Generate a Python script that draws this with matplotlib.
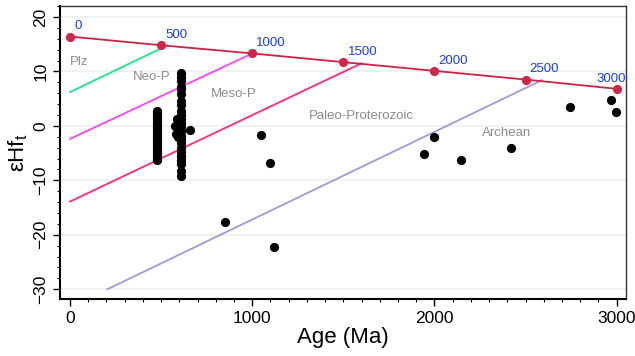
import numpy as np
import matplotlib.pyplot as plt
from matplotlib.ticker import MultipleLocator

plt.rcParams['font.family'] = ['Liberation Sans', 'DejaVu Sans']

# depleted mantle evolution curve
dm_age = [0, 500, 1000, 1500, 2000, 2500, 3000]
dm_ehf = [16.4, 14.8, 13.3, 11.7, 10.1, 8.5, 6.8]

# crustal evolution lines (start, end)
evo_lines = {
    'Plz':  ([0, 535], [6.2, 14.8], '#19e68a'),
    'Neo':  ([0, 1000], [-2.4, 13.3], '#ff44f4'),
    'Meso': ([0, 1600], [-13.9, 11.5], '#ff2a7c'),
    'Pal':  ([205, 2590], [-30.0, 8.4], '#a298dc'),
}

# eon labels
eon_names = ['Plz', 'Neo-P', 'Meso-P', 'Paleo-Proterozoic', 'Archean']
eon_x = [0, 450, 900, 1597, 2397]
eon_y = [11.7, 8.9, 5.8, 1.8, -1.4]

# zircon samples
col1_age = 480
col1_ehf = [2.8, 2.4, 2.0, 1.6, 1.2, 0.8, 0.4, 0.0, -0.4, -0.8, -1.2, -1.6, -2.0,
            -2.4, -2.8, -3.2, -3.6, -4.0, -4.4, -4.8, -5.2, -5.6, -6.0, -6.3]
col2_age = 607
col2_ehf = [9.7, 9.0, 8.2, 7.2, 6.8, 5.8, 4.6, 3.8, 2.8, 2.0, 1.2, 0.5, -0.2, -1.0,
            -1.8, -2.5, -3.2, -4.0, -4.8, -5.5, -6.3, -7.0, -8.3, -9.2]
other_age = [585, 580, 590, 575, 660, 850, 1048, 1097, 1119, 1944, 1997, 2145,
             2419, 2743, 2971, 2995]
other_ehf = [1.2, -1.5, -2.0, 0.0, -0.8, -17.6, -1.7, -6.9, -22.2, -5.1, -2.0, -6.3,
             -4.0, 3.4, 4.7, 2.5]

ages = [col1_age] * len(col1_ehf) + [col2_age] * len(col2_ehf) + other_age
ehfs = col1_ehf + col2_ehf + other_ehf

fig = plt.figure(figsize=(6.35, 3.56), dpi=100)
ax = fig.add_axes([0.0945, 0.160, 0.891, 0.823])

for y in [-30, -20, -10, 0, 10, 20]:
    ax.axhline(y, color='#e9f1ef', lw=1.2, zorder=0)

for key, (xs, ys, c) in evo_lines.items():
    ax.plot(xs, ys, color=c, lw=1.3, zorder=2)

ax.plot(dm_age, dm_ehf, color='#cc2246', lw=1.3, zorder=3)
ax.scatter(dm_age, dm_ehf, s=44, color='#cf2748', zorder=4, linewidths=0)

ax.scatter(ages, ehfs, s=44, color='black', zorder=5, linewidths=0)

for a, v in zip(dm_age, dm_ehf):
    if a == 3000:
        ax.annotate(str(a), (a, v), xytext=(7, 3), textcoords='offset points',
                    ha='right', va='bottom', color='#1a3cff', fontsize=9.5)
    else:
        ax.annotate(str(a), (a, v), xytext=(3, 3), textcoords='offset points',
                    ha='left', va='bottom', color='#1a3cff', fontsize=9.5)

for name, x, y in zip(eon_names, eon_x, eon_y):
    ax.text(x, y, name, ha='left' if name == 'Plz' else 'center', va='center',
            color='#8c8c8c', fontsize=9.5)

ax.set_xlim(-55, 3050)
ax.set_ylim(-31.8, 22)
ax.set_xticks([0, 1000, 2000, 3000])
ax.xaxis.set_minor_locator(MultipleLocator(100))
ax.set_yticks([-30, -20, -10, 0, 10, 20])
ax.yaxis.set_minor_locator(MultipleLocator(2))
ax.tick_params(which='major', length=5, width=1, labelsize=12.5, color='black')
ax.tick_params(which='minor', length=2.5, width=0.8, color='black')
for lab in ax.get_yticklabels():
    lab.set_rotation(90)
    lab.set_va('center')

for s in ['left', 'bottom']:
    ax.spines[s].set_linewidth(1.5)
    ax.spines[s].set_color('black')
for s in ['top', 'right']:
    ax.spines[s].set_linewidth(1.0)
    ax.spines[s].set_color('#333333')

ax.set_xlabel('Age (Ma)', fontsize=16, labelpad=1)
ax.set_ylabel(r'$\mathregular{\epsilon Hf_t}$', fontsize=16, labelpad=2)

fig.savefig('out.png', dpi=100)
